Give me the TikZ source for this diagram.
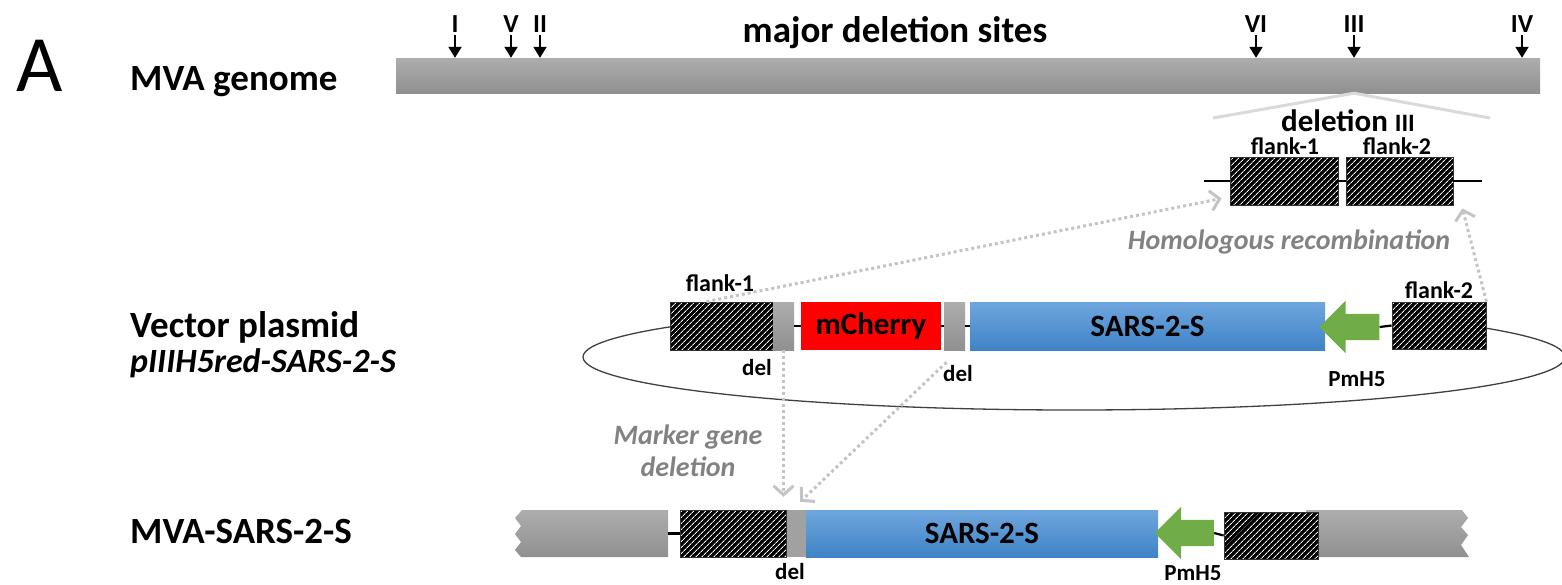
\documentclass[tikz,border=0pt]{standalone}
\usepackage{fontspec}
\setmainfont{Carlito}
\usetikzlibrary{arrows.meta,patterns.meta,shapes.arrows,positioning}

\definecolor{barTop}{RGB}{173,173,173}
\definecolor{barBot}{RGB}{144,144,144}
\definecolor{sarsTop}{RGB}{111,166,222}
\definecolor{sarsBot}{RGB}{63,131,198}
\definecolor{promGreen}{RGB}{112,173,71}
\definecolor{arrowGray}{RGB}{196,196,196}
\definecolor{noteGray}{RGB}{130,130,130}
\definecolor{zoomGray}{RGB}{218,218,218}

\tikzset{
  txt/.style={inner sep=0pt, anchor=base},
  rowlabel/.style={txt, anchor=base west, font=\bfseries\fontsize{37}{40}\selectfont},
  small/.style={txt, font=\bfseries\fontsize{23}{25}\selectfont},
  site/.style={txt, font=\bfseries\fontsize{26}{28}\selectfont},
  note/.style={noteGray, inner sep=0pt, font=\bfseries\itshape\fontsize{28}{32}\selectfont},
  flankbox/.style={draw=black!80, line width=0.8pt, preaction={fill=black},
    pattern={Lines[angle=45,distance=4pt,line width=0.9pt]}, pattern color=white,
    inner sep=0pt, minimum height=48pt},
  graybox/.style={top color=barTop, bottom color=barBot, inner sep=0pt, minimum height=48pt},
  sars/.style={top color=sarsTop, bottom color=sarsBot, inner sep=0pt, minimum height=48pt,
    font=\bfseries\fontsize{31}{32}\selectfont},
  cherry/.style={fill=red, inner sep=0pt, minimum height=48pt, font=\bfseries\fontsize{31}{32}\selectfont},
  prom/.style={single arrow, shape border rotate=180, fill=promGreen, inner sep=0pt,
    text height=13pt, text depth=13pt, single arrow head extend=13pt, single arrow head indent=0pt},
  backbone/.style={line width=2.2pt},
  sitearrow/.style={line width=2pt, -{Triangle[length=11pt,width=13pt]}},
  hr/.style={arrowGray, line width=3pt, dash pattern=on 3pt off 3pt,
    -{Straight Barb[length=9pt,width=20pt,line width=3pt]}},
}

\begin{document}
\begin{tikzpicture}[x=1pt,y=-1pt]
\useasboundingbox (0,0) rectangle (1562,584);

% row labels
\node[inner sep=0pt, font=\fontsize{80}{80}\selectfont] (panel) at (40,66) {A};
\node[rowlabel] (lgenome) at (130,90) {MVA genome};
\node[rowlabel] (lplasmid) at (130,337) {Vector plasmid};
\node[rowlabel, font=\bfseries\itshape\fontsize{34}{38}\selectfont] (lplasmid2) at (130,372) {pIIIH5red-SARS-2-S};
\node[rowlabel] (lrecomb) at (130,543) {MVA-SARS-2-S};

% MVA genome and deletion sites
\node[graybox, minimum width=1144pt, minimum height=35pt] (genome) at (968,75.5) {};
\node[txt, font=\bfseries\fontsize{37}{40}\selectfont] (sites) at (895,42) {major deletion sites};
\node[site] (sI) at (455,32) {I};
\node[site] (sV) at (511,32) {V};
\node[site] (sII) at (540,32) {II};
\node[site] (sVI) at (1256,32) {VI};
\node[site] (sIII) at (1354,32) {III};
\node[site] (sIV) at (1522,32) {IV};
\draw[sitearrow] ([yshift=-3pt]sI.south) -- (sI.south |- genome.north);
\draw[sitearrow] ([yshift=-3pt]sV.south) -- (sV.south |- genome.north);
\draw[sitearrow] ([yshift=-3pt]sII.south) -- (sII.south |- genome.north);
\draw[sitearrow] ([yshift=-3pt]sVI.south) -- (sVI.south |- genome.north);
\draw[sitearrow] ([yshift=-3pt]sIII.south) -- (sIII.south |- genome.north);
\draw[sitearrow] ([yshift=-3pt]sIV.south) -- (sIV.south |- genome.north);

% deletion III close-up
\coordinate (zoomL) at (1213,118);
\coordinate (zoomR) at (1490,118);
\draw[zoomGray, line width=3pt] (zoomL) -- (sIII.south |- genome.south) -- (zoomR);
\node[txt, font=\bfseries\fontsize{31}{32}\selectfont] (delIII) at (1348,131) {deletion {\fontsize{25}{25}\selectfont III}};
\node[flankbox, minimum width=108pt] (gf1) at (1284,181) {};
\node[flankbox, minimum width=107pt] (gf2) at (1399.5,181) {};
\node[small, font=\bfseries\fontsize{24}{25}\selectfont] at (1285,154) {flank-1};
\node[small, font=\bfseries\fontsize{24}{25}\selectfont] at (1397,154) {flank-2};
\draw[backbone] ([xshift=-26pt]gf1.west) -- (gf1.west);
\draw[backbone] (gf1.east) -- (gf2.west);
\draw[backbone] (gf2.east) -- ++(29pt,0);

% vector plasmid
\draw[line width=1.3pt, black!75] (1074,357) ellipse [x radius=491, y radius=53];
\fill[white] (670,302) rectangle (1486,350);
\node[flankbox, minimum width=103pt] (pf1) at (721.5,326) {};
\node[graybox, minimum width=21pt] (pdel1) at (783.5,326) {};
\node[cherry, minimum width=140pt] (pcherry) at (871,326) {mCherry};
\node[graybox, minimum width=21pt] (pdel2) at (954.5,326) {};
\node[sars, minimum width=355pt] (psars) at (1147.5,326) {SARS-2-S};
\node[prom, minimum height=60pt] (pprom) at (1356,327) {};
\node[flankbox, minimum width=94pt, minimum height=47pt] (pf2) at (1439,325.5) {};
\draw[backbone] (pdel1.east) -- (pcherry.west);
\draw[backbone] (pcherry.east) -- (pdel2.west);
\draw[backbone] (pdel2.east) -- (psars.west);
\draw[backbone] (pprom.tail) -- (pf2.west);
\node[small, font=\bfseries\fontsize{24}{25}\selectfont] at (720,291) {flank-1};
\node[small, font=\bfseries\fontsize{24}{25}\selectfont] at (1439,298) {flank-2};
\node[small] at (757,375) {del};
\node[small] at (958,381) {del};
\node[small] at (1357,386) {PmH5};

% recombinant MVA
\shade[top color=barTop, bottom color=barBot] (668,510) -- (522,510) -- (515,518) -- (521,526)
  -- (515,534) -- (521,542) -- (515,550) -- (521,557) -- (668,557) -- cycle;
\coordinate (mleft) at (668,533.5);
\shade[top color=barTop, bottom color=barBot] (1306,510) -- (1462,510) -- (1468,518) -- (1461,527)
  -- (1468,535) -- (1461,545) -- (1469,557) -- (1306,557) -- cycle;
\node[flankbox, minimum width=106pt, minimum height=47pt] (mf1) at (733,533.5) {};
\node[fill=black!37, inner sep=0pt, minimum width=19pt, minimum height=47pt] (mdel) at (796.5,533.5) {};
\node[sars, minimum width=352pt, minimum height=47pt] (msars) at (982,533.5) {SARS-2-S};
\node[prom, minimum height=59pt] (mprom) at (1191,533) {};
\node[flankbox, minimum width=94pt, minimum height=47pt] (mf2) at (1271,535.5) {};
\draw[backbone] (mleft) -- (mf1.west);
\draw[backbone] (mprom.tail) -- (mf2.west);
\node[small] at (790,579) {del};
\node[small] at (1193,580) {PmH5};

% recombination and marker deletion
\node[note] (hrtext) at (1289,242) {Homologous recombination};
\node[note, align=center] (mdtext) at (688,451) {Marker gene\\deletion};
\draw[hr] ([xshift=-15pt]pf1.north) -- ([xshift=-8pt,yshift=7pt]gf1.south west);
\draw[hr] (pf2.north east) -- ([xshift=9pt,yshift=-3pt]gf2.south east);
\draw[hr] (pdel1.south) -- ([yshift=13pt]pdel1.south |- mdel.north);
\draw[hr] ([xshift=-8pt,yshift=-12pt]pdel2.south) -- ([xshift=-6pt,yshift=8pt]mdel.north east);
\end{tikzpicture}
\end{document}
